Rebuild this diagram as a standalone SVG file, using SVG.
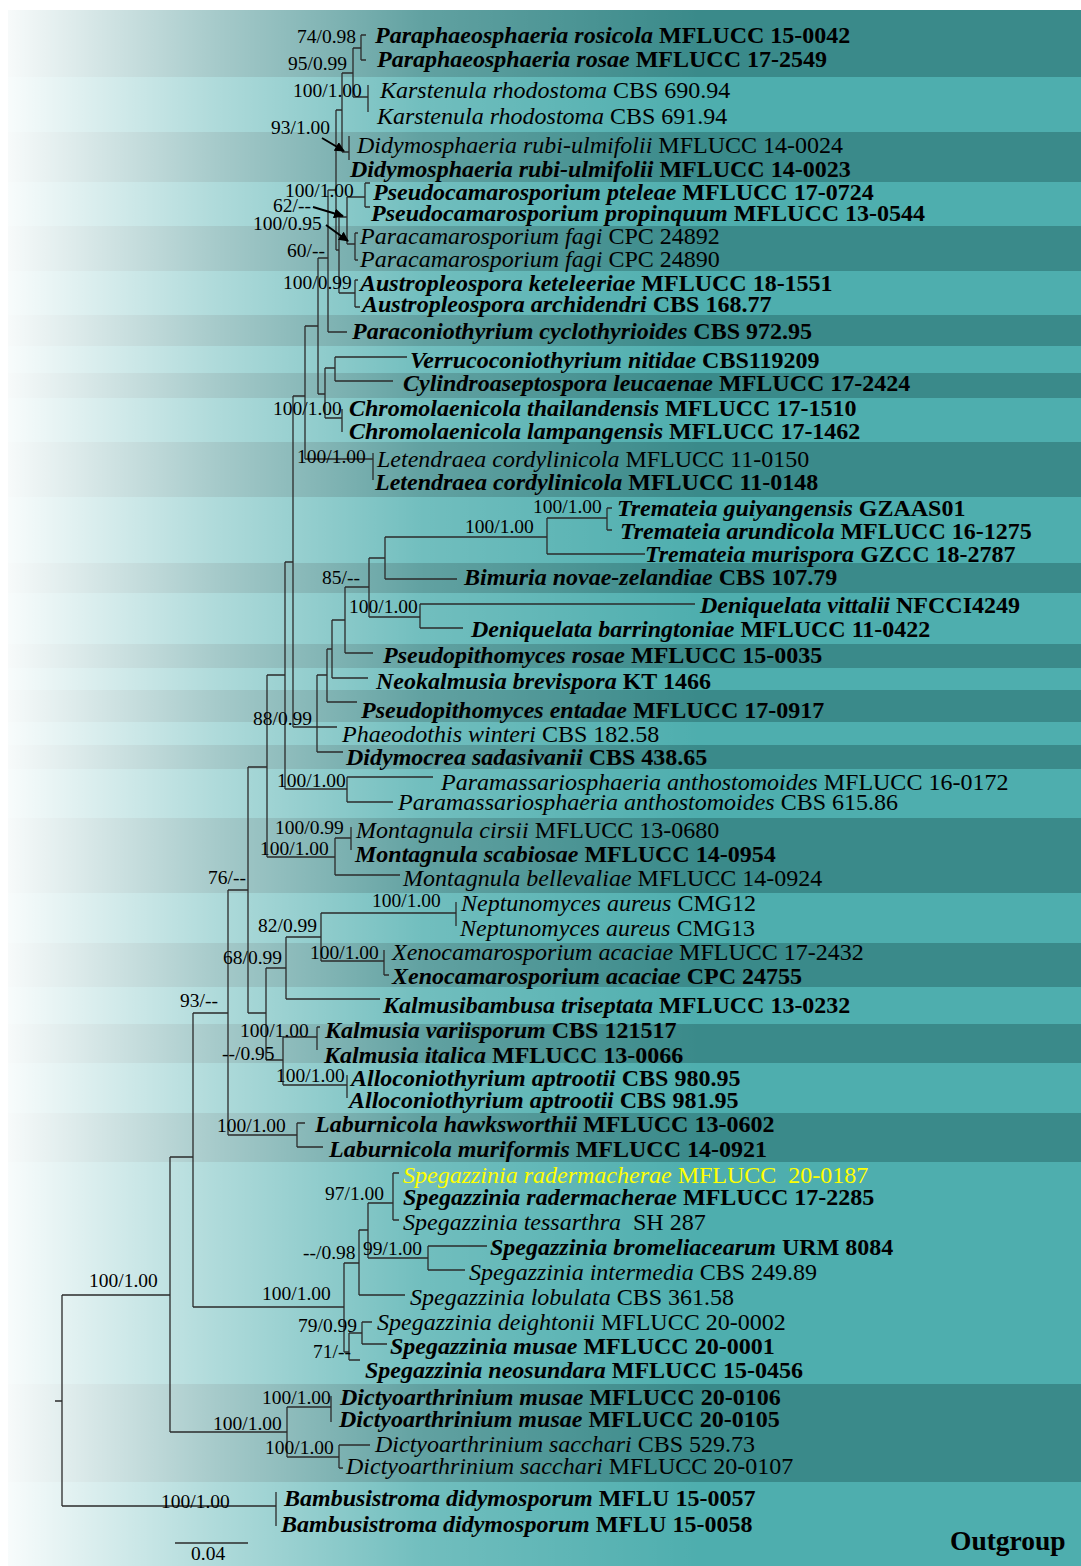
<svg xmlns="http://www.w3.org/2000/svg" width="1081" height="1566" viewBox="0 0 1081 1566">
<defs>
<style>
.t{font-family:"Liberation Serif","Times New Roman",serif;font-size:24px;fill:#000}
.b{font-weight:bold}
.i{font-style:italic}
.y{fill:#ffff00}
.s{font-family:"Liberation Serif","Times New Roman",serif;font-size:19.5px;fill:#000}
.d{fill:#3a8a8a}
.l{fill:#4eaeae}
.br{fill:none;stroke:#2b2b2b;stroke-width:1.3}
.ar{fill:none;stroke:#000;stroke-width:2}
</style>
<linearGradient id="fade" gradientUnits="userSpaceOnUse" x1="8" y1="0" x2="700" y2="0">
<stop offset="0" stop-color="#fff" stop-opacity="0.96"/>
<stop offset="0.3" stop-color="#fff" stop-opacity="0.55"/>
<stop offset="0.6" stop-color="#fff" stop-opacity="0.2"/>
<stop offset="1" stop-color="#fff" stop-opacity="0"/>
</linearGradient>
<marker id="ah" viewBox="0 0 10 10" refX="9" refY="5" markerWidth="5" markerHeight="5" orient="auto">
<path d="M0,0L10,5L0,10z" fill="#000"/>
</marker>
</defs>
<rect width="1081" height="1566" fill="#fff"/>
<g id="bands">
<rect class="d" x="8" y="10" width="1073" height="67"/>
<rect class="l" x="8" y="77" width="1073" height="55"/>
<rect class="d" x="8" y="132" width="1073" height="50"/>
<rect class="l" x="8" y="182" width="1073" height="44"/>
<rect class="d" x="8" y="226" width="1073" height="45"/>
<rect class="l" x="8" y="271" width="1073" height="44"/>
<rect class="d" x="8" y="315" width="1073" height="31"/>
<rect class="l" x="8" y="346" width="1073" height="27"/>
<rect class="d" x="8" y="373" width="1073" height="25"/>
<rect class="l" x="8" y="398" width="1073" height="44"/>
<rect class="d" x="8" y="442" width="1073" height="55"/>
<rect class="l" x="8" y="497" width="1073" height="66"/>
<rect class="d" x="8" y="563" width="1073" height="30"/>
<rect class="l" x="8" y="593" width="1073" height="51"/>
<rect class="d" x="8" y="644" width="1073" height="24"/>
<rect class="l" x="8" y="668" width="1073" height="22"/>
<rect class="d" x="8" y="690" width="1073" height="32"/>
<rect class="l" x="8" y="722" width="1073" height="23"/>
<rect class="d" x="8" y="745" width="1073" height="24"/>
<rect class="l" x="8" y="769" width="1073" height="49"/>
<rect class="d" x="8" y="818" width="1073" height="75"/>
<rect class="l" x="8" y="893" width="1073" height="50"/>
<rect class="d" x="8" y="943" width="1073" height="44"/>
<rect class="l" x="8" y="987" width="1073" height="37"/>
<rect class="d" x="8" y="1024" width="1073" height="39"/>
<rect class="l" x="8" y="1063" width="1073" height="50"/>
<rect class="d" x="8" y="1113" width="1073" height="49"/>
<rect class="l" x="8" y="1162" width="1073" height="222"/>
<rect class="d" x="8" y="1384" width="1073" height="98"/>
<rect class="l" x="8" y="1482" width="1073" height="84"/>
<rect x="8" y="10" width="1073" height="1556" fill="url(#fade)"/>
</g>
<g id="connectors">
<path class="br" d="M55 1401H62M62 1295V1506M62 1295H170M62 1506H276M276 1492V1526
M170 1157V1432M170 1157H193M170 1432H287M287 1407V1457M287 1407H331M331 1396V1422M287 1457H339M339 1445V1468M339 1445H370M339 1468H343
M193 1013V1307M193 1013H228M193 1307H344
M344 1263V1352M344 1263H359M344 1352H349M359 1230V1295M359 1230H368M359 1295H405M368 1203V1258M368 1203H393M368 1258H428
M393 1173V1220M393 1173H399M393 1220H399M428 1246V1270M428 1246H487M428 1270H465
M349 1333V1360M349 1333H362M349 1360H360M362 1322V1344M362 1322H372M362 1344H387
M228 890V1135M228 890H248M228 1135H297M297 1123V1147M297 1123H305M297 1147H323
M248 767V1013M248 767H267M248 1013H266M266 968V1060M266 968H286M266 1060H283
M286 937V999M286 937H321M286 999H380M321 913V961M321 913H456M321 961H384M456 902V926M384 950V975M384 975H389
M283 1037V1085M283 1037H317M283 1085H347M317 1027V1050M317 1027H320M347 1075V1098
M267 675V857M267 675H285M267 857H335M335 838V875M335 838H351M335 875H400M351 827V850
M285 562V789M285 562H293M285 789H347M347 777V802M347 777H433M347 802H393
M293 396V727M293 396H305M293 727H337
M317 675V752M317 675H327M317 752H343M327 649V702M327 649H332M327 702H357
M332 620V678M332 620H345M332 678H368M345 587V653M345 587H369M345 653H373
M369 558V617M369 558H385M369 617H420M385 537V579M385 537H547M385 579H457
M547 518V554M547 518H607M547 554H645M607 508V530M607 508H612M607 530H612
M420 604V628M420 604H695M420 628H463
M305 326V459M305 326H318M305 459H373M373 453V480
M318 258V394M318 258H328M318 394H325M325 368V418M325 368H335M325 418H342
M335 357V381M335 357H407M335 381H393M342 409V432
M328 190V332M328 190H336M328 332H347
M336 110V250M336 110H342M336 250H339M339 217V293M339 217H347M339 293H355
M342 73V152M342 73H353M342 152H349M349 136V160
M353 48V97M353 48H361M353 97H368M361 35V60M361 35H366M361 60H366M368 85V112
M347 197V244M347 197H365M347 244H355M365 183V207M365 183H370M365 207H370
M355 233V260M355 233H358M355 260H358M355 280V307M355 280H358M355 307H360"/>
<path class="ar" marker-end="url(#ah)" d="M322 138L344 151"/>
<path class="ar" marker-end="url(#ah)" d="M313 207L343 216"/>
<path class="ar" marker-end="url(#ah)" d="M326 225L348 241"/>
</g>
<g id="support">
<text class="s" x="297" y="43">74/0.98</text>
<text class="s" x="288" y="70">95/0.99</text>
<text class="s" x="293" y="97">100/1.00</text>
<text class="s" x="271" y="134">93/1.00</text>
<text class="s" x="285" y="197">100/1.00</text>
<text class="s" x="273" y="212">62/--</text>
<text class="s" x="253" y="230">100/0.95</text>
<text class="s" x="287" y="257">60/--</text>
<text class="s" x="283" y="289">100/0.99</text>
<text class="s" x="273" y="415">100/1.00</text>
<text class="s" x="297" y="463">100/1.00</text>
<text class="s" x="533" y="513">100/1.00</text>
<text class="s" x="465" y="533">100/1.00</text>
<text class="s" x="322" y="584">85/--</text>
<text class="s" x="349" y="613">100/1.00</text>
<text class="s" x="253" y="725">88/0.99</text>
<text class="s" x="277" y="787">100/1.00</text>
<text class="s" x="275" y="834">100/0.99</text>
<text class="s" x="260" y="855">100/1.00</text>
<text class="s" x="208" y="884">76/--</text>
<text class="s" x="372" y="907">100/1.00</text>
<text class="s" x="258" y="932">82/0.99</text>
<text class="s" x="223" y="964">68/0.99</text>
<text class="s" x="310" y="959">100/1.00</text>
<text class="s" x="180" y="1007">93/--</text>
<text class="s" x="240" y="1037">100/1.00</text>
<text class="s" x="222" y="1060">--/0.95</text>
<text class="s" x="276" y="1082">100/1.00</text>
<text class="s" x="217" y="1132">100/1.00</text>
<text class="s" x="325" y="1200">97/1.00</text>
<text class="s" x="303" y="1259">--/0.98</text>
<text class="s" x="363" y="1255">99/1.00</text>
<text class="s" x="262" y="1300">100/1.00</text>
<text class="s" x="298" y="1332">79/0.99</text>
<text class="s" x="313" y="1358">71/--</text>
<text class="s" x="262" y="1404">100/1.00</text>
<text class="s" x="213" y="1430">100/1.00</text>
<text class="s" x="265" y="1454">100/1.00</text>
<text class="s" x="89" y="1287">100/1.00</text>
<text class="s" x="161" y="1508">100/1.00</text>
</g>
<g id="taxa">
<g id="t1"><text class="t b" x="375" y="43"><tspan class="i">Paraphaeosphaeria rosicola</tspan> MFLUCC 15-0042</text></g>
<g id="t2"><text class="t b" x="377" y="67"><tspan class="i">Paraphaeosphaeria rosae</tspan> MFLUCC 17-2549</text></g>
<g id="t3"><text class="t" x="380" y="98"><tspan class="i">Karstenula rhodostoma</tspan> CBS 690.94</text></g>
<g id="t4"><text class="t" x="377" y="124"><tspan class="i">Karstenula rhodostoma</tspan> CBS 691.94</text></g>
<g id="t5"><text class="t" x="357" y="153"><tspan class="i">Didymosphaeria rubi-ulmifolii</tspan> MFLUCC 14-0024</text></g>
<g id="t6"><text class="t b" x="350" y="177"><tspan class="i">Didymosphaeria rubi-ulmifolii</tspan> MFLUCC 14-0023</text></g>
<g id="t7"><text class="t b" x="373" y="200"><tspan class="i">Pseudocamarosporium pteleae</tspan> MFLUCC 17-0724</text></g>
<g id="t8"><text class="t b" x="371" y="221"><tspan class="i">Pseudocamarosporium propinquum</tspan> MFLUCC 13-0544</text></g>
<g id="t9"><text class="t" x="360" y="244"><tspan class="i">Paracamarosporium fagi</tspan> CPC 24892</text></g>
<g id="t10"><text class="t" x="360" y="267"><tspan class="i">Paracamarosporium fagi</tspan> CPC 24890</text></g>
<g id="t11"><text class="t b" x="360" y="291"><tspan class="i">Austropleospora keteleeriae</tspan> MFLUCC 18-1551</text></g>
<g id="t12"><text class="t b" x="362" y="312"><tspan class="i">Austropleospora archidendri</tspan> CBS 168.77</text></g>
<g id="t13"><text class="t b" x="352" y="339"><tspan class="i">Paraconiothyrium cyclothyrioides</tspan> CBS 972.95</text></g>
<g id="t14"><text class="t b" x="410" y="368"><tspan class="i">Verrucoconiothyrium nitidae</tspan> CBS119209</text></g>
<g id="t15"><text class="t b" x="403" y="391"><tspan class="i">Cylindroaseptospora leucaenae</tspan> MFLUCC 17-2424</text></g>
<g id="t16"><text class="t b" x="349" y="416"><tspan class="i">Chromolaenicola thailandensis</tspan> MFLUCC 17-1510</text></g>
<g id="t17"><text class="t b" x="349" y="439"><tspan class="i">Chromolaenicola lampangensis</tspan> MFLUCC 17-1462</text></g>
<g id="t18"><text class="t" x="377" y="467"><tspan class="i">Letendraea cordylinicola</tspan> MFLUCC 11-0150</text></g>
<g id="t19"><text class="t b" x="375" y="490"><tspan class="i">Letendraea cordylinicola</tspan> MFLUCC 11-0148</text></g>
<g id="t20"><text class="t b" x="617" y="516"><tspan class="i">Tremateia guiyangensis</tspan> GZAAS01</text></g>
<g id="t21"><text class="t b" x="620" y="539"><tspan class="i">Tremateia arundicola</tspan> MFLUCC 16-1275</text></g>
<g id="t22"><text class="t b" x="645" y="562"><tspan class="i">Tremateia murispora</tspan> GZCC 18-2787</text></g>
<g id="t23"><text class="t b" x="464" y="585"><tspan class="i">Bimuria novae-zelandiae</tspan> CBS 107.79</text></g>
<g id="t24"><text class="t b" x="700" y="613"><tspan class="i">Deniquelata vittalii</tspan> NFCCI4249</text></g>
<g id="t25"><text class="t b" x="471" y="637"><tspan class="i">Deniquelata barringtoniae</tspan> MFLUCC 11-0422</text></g>
<g id="t26"><text class="t b" x="383" y="663"><tspan class="i">Pseudopithomyces rosae</tspan> MFLUCC 15-0035</text></g>
<g id="t27"><text class="t b" x="376" y="689"><tspan class="i">Neokalmusia brevispora</tspan> KT 1466</text></g>
<g id="t28"><text class="t b" x="361" y="718"><tspan class="i">Pseudopithomyces entadae</tspan> MFLUCC 17-0917</text></g>
<g id="t29"><text class="t" x="342" y="742"><tspan class="i">Phaeodothis winteri</tspan> CBS 182.58</text></g>
<g id="t30"><text class="t b" x="346" y="765"><tspan class="i">Didymocrea sadasivanii</tspan> CBS 438.65</text></g>
<g id="t31"><text class="t" x="441" y="790"><tspan class="i">Paramassariosphaeria anthostomoides</tspan> MFLUCC 16-0172</text></g>
<g id="t32"><text class="t" x="398" y="810"><tspan class="i">Paramassariosphaeria anthostomoides</tspan> CBS 615.86</text></g>
<g id="t33"><text class="t" x="356" y="838"><tspan class="i">Montagnula cirsii</tspan> MFLUCC 13-0680</text></g>
<g id="t34"><text class="t b" x="355" y="862"><tspan class="i">Montagnula scabiosae</tspan> MFLUCC 14-0954</text></g>
<g id="t35"><text class="t" x="403" y="886"><tspan class="i">Montagnula bellevaliae</tspan> MFLUCC 14-0924</text></g>
<g id="t36"><text class="t" x="461" y="911"><tspan class="i">Neptunomyces aureus</tspan> CMG12</text></g>
<g id="t37"><text class="t" x="460" y="936"><tspan class="i">Neptunomyces aureus</tspan> CMG13</text></g>
<g id="t38"><text class="t" x="392" y="960"><tspan class="i">Xenocamarosporium acaciae</tspan> MFLUCC 17-2432</text></g>
<g id="t39"><text class="t b" x="392" y="984"><tspan class="i">Xenocamarosporium acaciae</tspan> CPC 24755</text></g>
<g id="t40"><text class="t b" x="383" y="1013"><tspan class="i">Kalmusibambusa triseptata</tspan> MFLUCC 13-0232</text></g>
<g id="t41"><text class="t b" x="325" y="1038"><tspan class="i">Kalmusia variisporum</tspan> CBS 121517</text></g>
<g id="t42"><text class="t b" x="324" y="1063"><tspan class="i">Kalmusia italica</tspan> MFLUCC 13-0066</text></g>
<g id="t43"><text class="t b" x="351" y="1086"><tspan class="i">Alloconiothyrium aptrootii</tspan> CBS 980.95</text></g>
<g id="t44"><text class="t b" x="349" y="1108"><tspan class="i">Alloconiothyrium aptrootii</tspan> CBS 981.95</text></g>
<g id="t45"><text class="t b" x="315" y="1132"><tspan class="i">Laburnicola hawksworthii</tspan> MFLUCC 13-0602</text></g>
<g id="t46"><text class="t b" x="329" y="1157"><tspan class="i">Laburnicola muriformis</tspan> MFLUCC 14-0921</text></g>
<g id="t47"><text class="t y" x="403" y="1183"><tspan class="i">Spegazzinia radermacherae</tspan> MFLUCC&#160; 20-0187</text></g>
<g id="t48"><text class="t b" x="403" y="1205"><tspan class="i">Spegazzinia radermacherae</tspan> MFLUCC 17-2285</text></g>
<g id="t49"><text class="t" x="403" y="1230"><tspan class="i">Spegazzinia tessarthra</tspan>&#160; SH 287</text></g>
<g id="t50"><text class="t b" x="490" y="1255"><tspan class="i">Spegazzinia bromeliacearum</tspan> URM 8084</text></g>
<g id="t51"><text class="t" x="469" y="1280"><tspan class="i">Spegazzinia intermedia</tspan> CBS 249.89</text></g>
<g id="t52"><text class="t" x="410" y="1305"><tspan class="i">Spegazzinia lobulata</tspan> CBS 361.58</text></g>
<g id="t53"><text class="t" x="377" y="1330"><tspan class="i">Spegazzinia deightonii</tspan> MFLUCC 20-0002</text></g>
<g id="t54"><text class="t b" x="390" y="1354"><tspan class="i">Spegazzinia musae</tspan> MFLUCC 20-0001</text></g>
<g id="t55"><text class="t b" x="365" y="1378"><tspan class="i">Spegazzinia neosundara</tspan> MFLUCC 15-0456</text></g>
<g id="t56"><text class="t b" x="340" y="1405"><tspan class="i">Dictyoarthrinium musae</tspan> MFLUCC 20-0106</text></g>
<g id="t57"><text class="t b" x="339" y="1427"><tspan class="i">Dictyoarthrinium musae</tspan> MFLUCC 20-0105</text></g>
<g id="t58"><text class="t" x="375" y="1452"><tspan class="i">Dictyoarthrinium sacchari</tspan> CBS 529.73</text></g>
<g id="t59"><text class="t" x="346" y="1474"><tspan class="i">Dictyoarthrinium sacchari</tspan> MFLUCC 20-0107</text></g>
<g id="t60"><text class="t b" x="284" y="1506"><tspan class="i">Bambusistroma didymosporum</tspan> MFLU 15-0057</text></g>
<g id="t61"><text class="t b" x="281" y="1532"><tspan class="i">Bambusistroma didymosporum</tspan> MFLU 15-0058</text></g>
</g>
<g id="outgroup"><text class="t b" x="950" y="1550" style="font-size:27.5px">Outgroup</text></g>
<g id="scalebar">
<path class="br" d="M175 1543H248"/>
<text class="s" x="191" y="1560">0.04</text>
</g>
</svg>
